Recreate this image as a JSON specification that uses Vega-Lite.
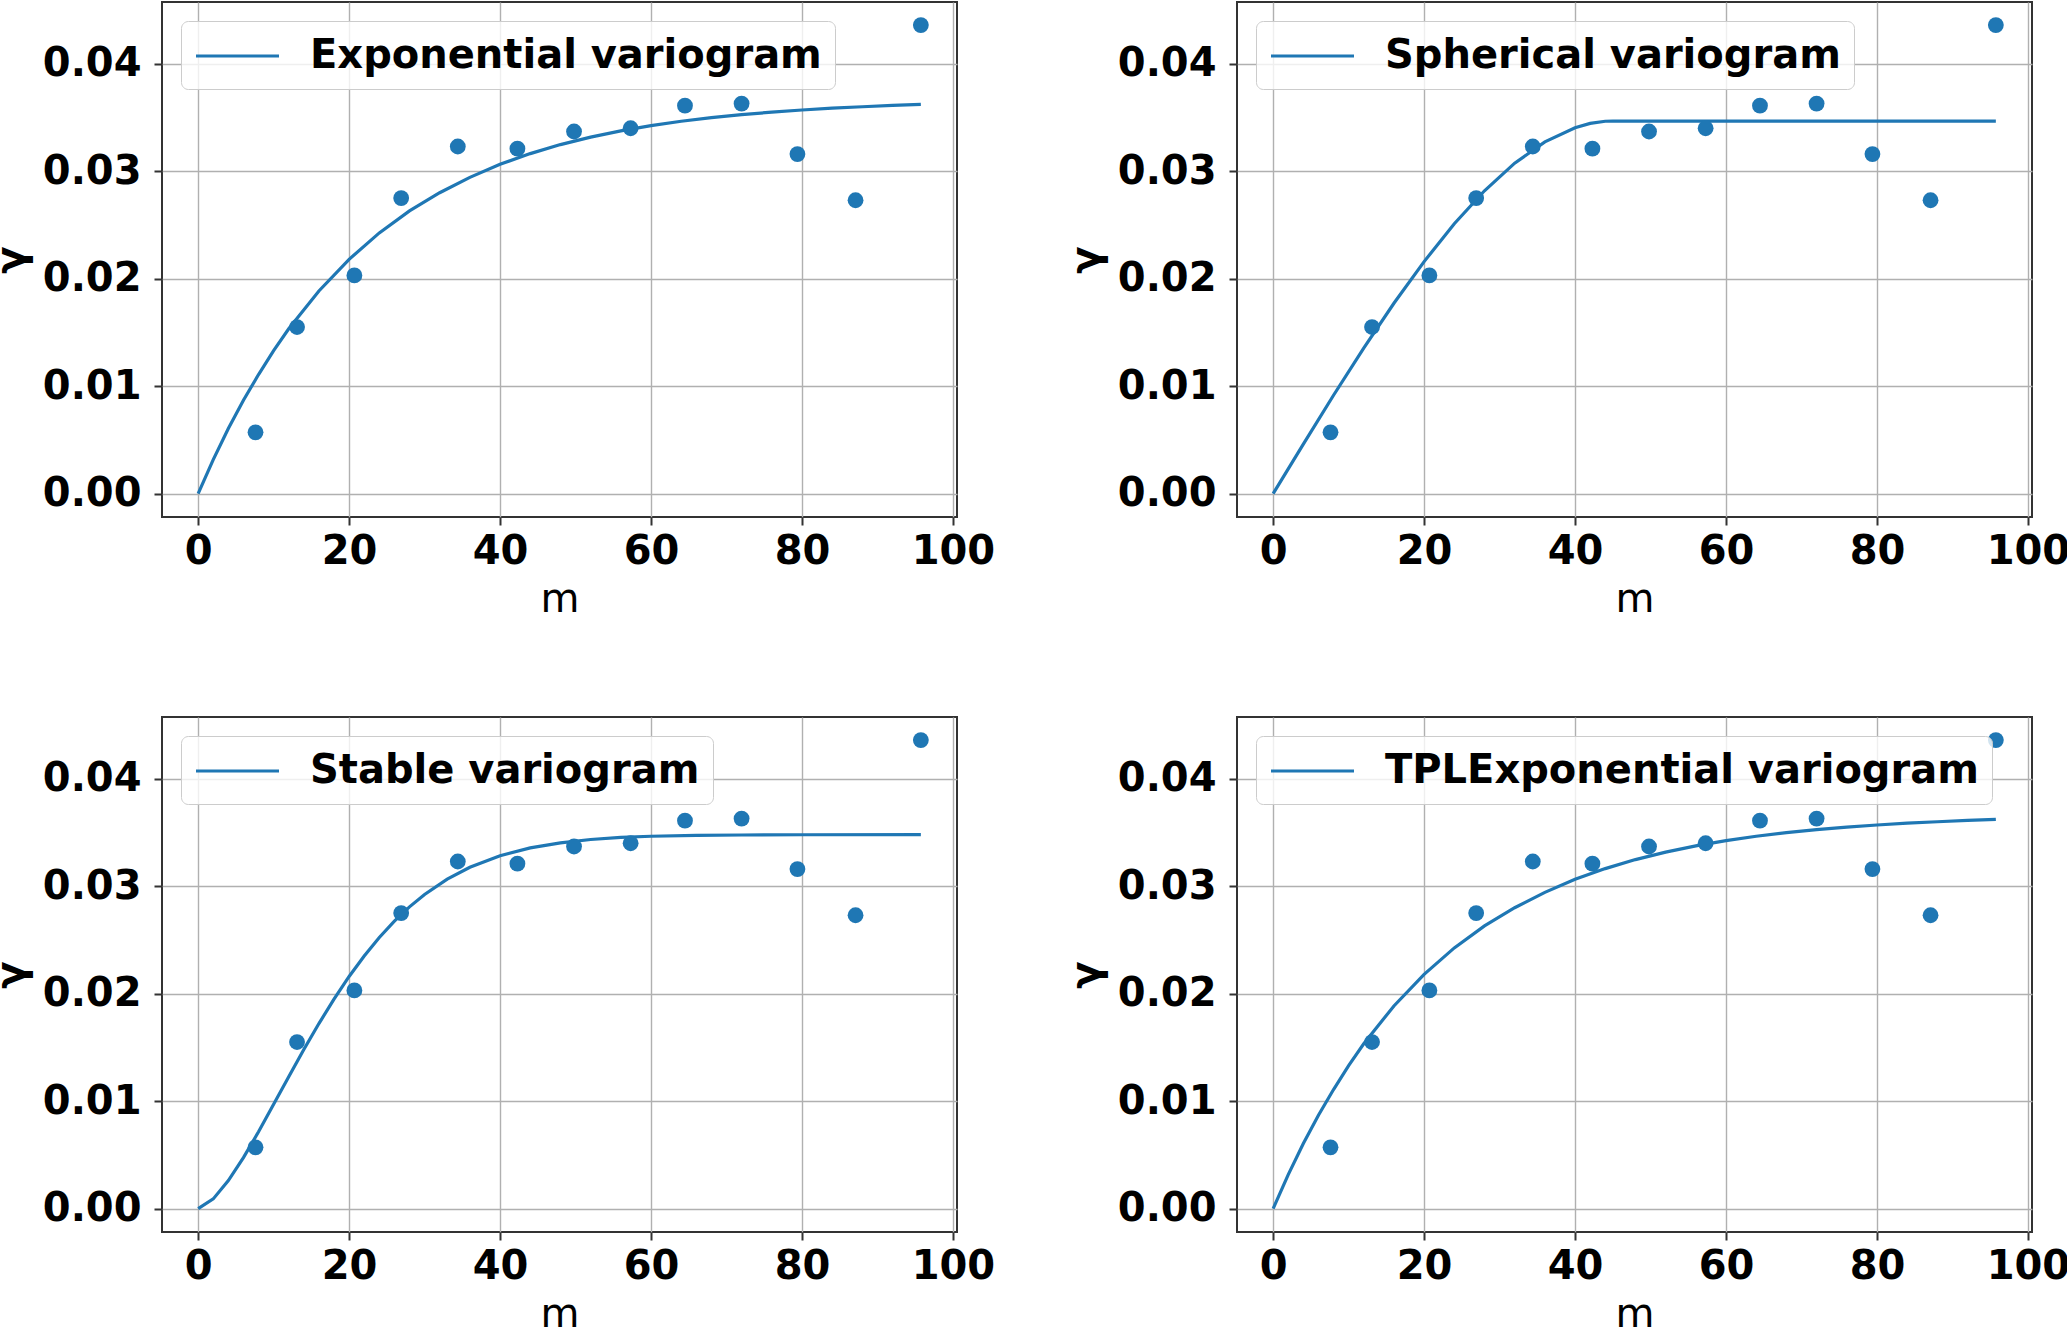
{
  "$schema": "https://vega.github.io/schema/vega-lite/v6.json",
  "background": "white",
  "padding": {"left": -10, "top": 1, "right": 0, "bottom": 0},
  "columns": 2,
  "bounds": "flush",
  "spacing": {"row": 200, "column": 280},
  "datasets": {
    "emp": [
      {"h": 7.6, "gamma": 0.0057},
      {"h": 13.1, "gamma": 0.0155},
      {"h": 20.7, "gamma": 0.0203},
      {"h": 26.9, "gamma": 0.0275},
      {"h": 34.4, "gamma": 0.0323},
      {"h": 42.3, "gamma": 0.0321},
      {"h": 49.8, "gamma": 0.0337},
      {"h": 57.3, "gamma": 0.034},
      {"h": 64.5, "gamma": 0.0361},
      {"h": 72.0, "gamma": 0.0363},
      {"h": 79.4, "gamma": 0.0316},
      {"h": 87.1, "gamma": 0.0273},
      {"h": 95.75, "gamma": 0.0436}
    ],
    "fit": [
      {"model": "Exponential variogram", "h": 0, "gamma": 0},
      {"model": "Exponential variogram", "h": 2, "gamma": 0.00316},
      {"model": "Exponential variogram", "h": 4, "gamma": 0.00605},
      {"model": "Exponential variogram", "h": 6, "gamma": 0.00869},
      {"model": "Exponential variogram", "h": 8, "gamma": 0.01108},
      {"model": "Exponential variogram", "h": 10, "gamma": 0.01331},
      {"model": "Exponential variogram", "h": 12, "gamma": 0.01534},
      {"model": "Exponential variogram", "h": 16, "gamma": 0.01886},
      {"model": "Exponential variogram", "h": 20, "gamma": 0.0218},
      {"model": "Exponential variogram", "h": 24, "gamma": 0.02426},
      {"model": "Exponential variogram", "h": 28, "gamma": 0.02631},
      {"model": "Exponential variogram", "h": 32, "gamma": 0.028},
      {"model": "Exponential variogram", "h": 36, "gamma": 0.02943},
      {"model": "Exponential variogram", "h": 40, "gamma": 0.03064},
      {"model": "Exponential variogram", "h": 44, "gamma": 0.03164},
      {"model": "Exponential variogram", "h": 48, "gamma": 0.03248},
      {"model": "Exponential variogram", "h": 52, "gamma": 0.03317},
      {"model": "Exponential variogram", "h": 56, "gamma": 0.03376},
      {"model": "Exponential variogram", "h": 60, "gamma": 0.03424},
      {"model": "Exponential variogram", "h": 64, "gamma": 0.03465},
      {"model": "Exponential variogram", "h": 68, "gamma": 0.03499},
      {"model": "Exponential variogram", "h": 72, "gamma": 0.03527},
      {"model": "Exponential variogram", "h": 76, "gamma": 0.0355},
      {"model": "Exponential variogram", "h": 80, "gamma": 0.0357},
      {"model": "Exponential variogram", "h": 84, "gamma": 0.03587},
      {"model": "Exponential variogram", "h": 88, "gamma": 0.036},
      {"model": "Exponential variogram", "h": 92, "gamma": 0.03612},
      {"model": "Exponential variogram", "h": 95.75, "gamma": 0.03622},
      {"model": "Spherical variogram", "h": 0, "gamma": 0},
      {"model": "Spherical variogram", "h": 4, "gamma": 0.00461},
      {"model": "Spherical variogram", "h": 8, "gamma": 0.00915},
      {"model": "Spherical variogram", "h": 12, "gamma": 0.01354},
      {"model": "Spherical variogram", "h": 16, "gamma": 0.01771},
      {"model": "Spherical variogram", "h": 20, "gamma": 0.02159},
      {"model": "Spherical variogram", "h": 24, "gamma": 0.02511},
      {"model": "Spherical variogram", "h": 28, "gamma": 0.02818},
      {"model": "Spherical variogram", "h": 32, "gamma": 0.03075},
      {"model": "Spherical variogram", "h": 36, "gamma": 0.03273},
      {"model": "Spherical variogram", "h": 40, "gamma": 0.03405},
      {"model": "Spherical variogram", "h": 42, "gamma": 0.03445},
      {"model": "Spherical variogram", "h": 44, "gamma": 0.03465},
      {"model": "Spherical variogram", "h": 45, "gamma": 0.03467},
      {"model": "Spherical variogram", "h": 95.75, "gamma": 0.03467},
      {"model": "Stable variogram", "h": 0, "gamma": 0},
      {"model": "Stable variogram", "h": 2, "gamma": 0.0009},
      {"model": "Stable variogram", "h": 4, "gamma": 0.0026},
      {"model": "Stable variogram", "h": 6, "gamma": 0.00474},
      {"model": "Stable variogram", "h": 8, "gamma": 0.00715},
      {"model": "Stable variogram", "h": 10, "gamma": 0.0097},
      {"model": "Stable variogram", "h": 12, "gamma": 0.01227},
      {"model": "Stable variogram", "h": 14, "gamma": 0.0148},
      {"model": "Stable variogram", "h": 16, "gamma": 0.01722},
      {"model": "Stable variogram", "h": 18, "gamma": 0.01949},
      {"model": "Stable variogram", "h": 20, "gamma": 0.0216},
      {"model": "Stable variogram", "h": 22, "gamma": 0.02351},
      {"model": "Stable variogram", "h": 24, "gamma": 0.02523},
      {"model": "Stable variogram", "h": 26, "gamma": 0.02675},
      {"model": "Stable variogram", "h": 28, "gamma": 0.02808},
      {"model": "Stable variogram", "h": 30, "gamma": 0.02923},
      {"model": "Stable variogram", "h": 33, "gamma": 0.03066},
      {"model": "Stable variogram", "h": 36, "gamma": 0.03177},
      {"model": "Stable variogram", "h": 40, "gamma": 0.03284},
      {"model": "Stable variogram", "h": 44, "gamma": 0.03357},
      {"model": "Stable variogram", "h": 48, "gamma": 0.03404},
      {"model": "Stable variogram", "h": 52, "gamma": 0.03435},
      {"model": "Stable variogram", "h": 56, "gamma": 0.03454},
      {"model": "Stable variogram", "h": 60, "gamma": 0.03465},
      {"model": "Stable variogram", "h": 66, "gamma": 0.03474},
      {"model": "Stable variogram", "h": 72, "gamma": 0.03477},
      {"model": "Stable variogram", "h": 80, "gamma": 0.03479},
      {"model": "Stable variogram", "h": 95.75, "gamma": 0.0348},
      {"model": "TPLExponential variogram", "h": 0, "gamma": 0},
      {"model": "TPLExponential variogram", "h": 2, "gamma": 0.00316},
      {"model": "TPLExponential variogram", "h": 4, "gamma": 0.00605},
      {"model": "TPLExponential variogram", "h": 6, "gamma": 0.00869},
      {"model": "TPLExponential variogram", "h": 8, "gamma": 0.01108},
      {"model": "TPLExponential variogram", "h": 10, "gamma": 0.01331},
      {"model": "TPLExponential variogram", "h": 12, "gamma": 0.01534},
      {"model": "TPLExponential variogram", "h": 16, "gamma": 0.01886},
      {"model": "TPLExponential variogram", "h": 20, "gamma": 0.0218},
      {"model": "TPLExponential variogram", "h": 24, "gamma": 0.02426},
      {"model": "TPLExponential variogram", "h": 28, "gamma": 0.02631},
      {"model": "TPLExponential variogram", "h": 32, "gamma": 0.028},
      {"model": "TPLExponential variogram", "h": 36, "gamma": 0.02943},
      {"model": "TPLExponential variogram", "h": 40, "gamma": 0.03064},
      {"model": "TPLExponential variogram", "h": 44, "gamma": 0.03164},
      {"model": "TPLExponential variogram", "h": 48, "gamma": 0.03248},
      {"model": "TPLExponential variogram", "h": 52, "gamma": 0.03317},
      {"model": "TPLExponential variogram", "h": 56, "gamma": 0.03376},
      {"model": "TPLExponential variogram", "h": 60, "gamma": 0.03424},
      {"model": "TPLExponential variogram", "h": 64, "gamma": 0.03465},
      {"model": "TPLExponential variogram", "h": 68, "gamma": 0.03499},
      {"model": "TPLExponential variogram", "h": 72, "gamma": 0.03527},
      {"model": "TPLExponential variogram", "h": 76, "gamma": 0.0355},
      {"model": "TPLExponential variogram", "h": 80, "gamma": 0.0357},
      {"model": "TPLExponential variogram", "h": 84, "gamma": 0.03587},
      {"model": "TPLExponential variogram", "h": 88, "gamma": 0.036},
      {"model": "TPLExponential variogram", "h": 92, "gamma": 0.03612},
      {"model": "TPLExponential variogram", "h": 95.75, "gamma": 0.03622}
    ]
  },
  "resolve": {"scale": {"color": "independent"}, "legend": {"color": "independent"}},
  "concat": [
    {
      "width": 795, "height": 515,
      "layer": [
        {
          "data": {"name": "fit"},
          "transform": [{"filter": "datum.model === 'Exponential variogram'"}],
          "mark": {"type": "line", "strokeWidth": 3.2},
          "encoding": {
            "x": {"field": "h", "type": "quantitative", "title": "m", "scale": {"domain": [-4.79, 100.54], "nice": false, "zero": false}, "axis": {"values": [0, 20, 40, 60, 80, 100]}},
            "y": {"field": "gamma", "type": "quantitative", "title": "γ", "scale": {"domain": [-0.00218, 0.04575], "nice": false, "zero": false}, "axis": {"values": [0, 0.01, 0.02, 0.03, 0.04], "format": ".2f"}},
            "color": {"field": "model", "type": "nominal", "scale": {"range": ["#1f77b4"]}, "legend": {"title": null}}
          }
        },
        {
          "data": {"name": "emp"},
          "mark": {"type": "circle", "size": 250, "opacity": 1, "color": "#1f77b4"},
          "encoding": {
            "x": {"field": "h", "type": "quantitative"},
            "y": {"field": "gamma", "type": "quantitative"}
          }
        }
      ]
    },
    {
      "width": 795, "height": 515,
      "layer": [
        {
          "data": {"name": "fit"},
          "transform": [{"filter": "datum.model === 'Spherical variogram'"}],
          "mark": {"type": "line", "strokeWidth": 3.2},
          "encoding": {
            "x": {"field": "h", "type": "quantitative", "title": "m", "scale": {"domain": [-4.79, 100.54], "nice": false, "zero": false}, "axis": {"values": [0, 20, 40, 60, 80, 100]}},
            "y": {"field": "gamma", "type": "quantitative", "title": "γ", "scale": {"domain": [-0.00218, 0.04575], "nice": false, "zero": false}, "axis": {"values": [0, 0.01, 0.02, 0.03, 0.04], "format": ".2f"}},
            "color": {"field": "model", "type": "nominal", "scale": {"range": ["#1f77b4"]}, "legend": {"title": null}}
          }
        },
        {
          "data": {"name": "emp"},
          "mark": {"type": "circle", "size": 250, "opacity": 1, "color": "#1f77b4"},
          "encoding": {
            "x": {"field": "h", "type": "quantitative"},
            "y": {"field": "gamma", "type": "quantitative"}
          }
        }
      ]
    },
    {
      "width": 795, "height": 515,
      "layer": [
        {
          "data": {"name": "fit"},
          "transform": [{"filter": "datum.model === 'Stable variogram'"}],
          "mark": {"type": "line", "strokeWidth": 3.2},
          "encoding": {
            "x": {"field": "h", "type": "quantitative", "title": "m", "scale": {"domain": [-4.79, 100.54], "nice": false, "zero": false}, "axis": {"values": [0, 20, 40, 60, 80, 100]}},
            "y": {"field": "gamma", "type": "quantitative", "title": "γ", "scale": {"domain": [-0.00218, 0.04575], "nice": false, "zero": false}, "axis": {"values": [0, 0.01, 0.02, 0.03, 0.04], "format": ".2f"}},
            "color": {"field": "model", "type": "nominal", "scale": {"range": ["#1f77b4"]}, "legend": {"title": null}}
          }
        },
        {
          "data": {"name": "emp"},
          "mark": {"type": "circle", "size": 250, "opacity": 1, "color": "#1f77b4"},
          "encoding": {
            "x": {"field": "h", "type": "quantitative"},
            "y": {"field": "gamma", "type": "quantitative"}
          }
        }
      ]
    },
    {
      "width": 795, "height": 515,
      "layer": [
        {
          "data": {"name": "fit"},
          "transform": [{"filter": "datum.model === 'TPLExponential variogram'"}],
          "mark": {"type": "line", "strokeWidth": 3.2},
          "encoding": {
            "x": {"field": "h", "type": "quantitative", "title": "m", "scale": {"domain": [-4.79, 100.54], "nice": false, "zero": false}, "axis": {"values": [0, 20, 40, 60, 80, 100]}},
            "y": {"field": "gamma", "type": "quantitative", "title": "γ", "scale": {"domain": [-0.00218, 0.04575], "nice": false, "zero": false}, "axis": {"values": [0, 0.01, 0.02, 0.03, 0.04], "format": ".2f"}},
            "color": {"field": "model", "type": "nominal", "scale": {"range": ["#1f77b4"]}, "legend": {"title": null}}
          }
        },
        {
          "data": {"name": "emp"},
          "mark": {"type": "circle", "size": 250, "opacity": 1, "color": "#1f77b4"},
          "encoding": {
            "x": {"field": "h", "type": "quantitative"},
            "y": {"field": "gamma", "type": "quantitative"}
          }
        }
      ]
    }
  ],
  "config": {
    "font": "DejaVu Sans",
    "view": {"stroke": "#333333", "strokeWidth": 2},
    "axis": {
      "labelFont": "DejaVu Sans",
      "labelFontSize": 40,
      "labelFontWeight": "bold",
      "labelColor": "black",
      "titleFont": "DejaVu Sans",
      "titleFontSize": 40,
      "titleColor": "black",
      "grid": true,
      "gridColor": "#b0b0b0",
      "gridWidth": 1.4,
      "gridOpacity": 1,
      "domain": false,
      "ticks": true,
      "tickColor": "#333333",
      "tickWidth": 2,
      "tickSize": 8,
      "labelFlush": false,
      "labelOverlap": false
    },
    "axisX": {"labelPadding": 6, "titlePadding": 8, "titleFontWeight": "normal"},
    "axisY": {"labelPadding": 13, "titlePadding": 11, "titleFontWeight": "bold"},
    "legend": {
      "orient": "top-left",
      "offset": 19,
      "padding": 13,
      "fillColor": "rgba(255,255,255,0.8)",
      "strokeColor": "#cccccc",
      "cornerRadius": 7,
      "symbolType": "M-1,0H3.15",
      "symbolSize": 1600,
      "symbolStrokeWidth": 3.2,
      "labelFont": "DejaVu Sans",
      "labelFontSize": 40,
      "labelFontWeight": "bold",
      "labelColor": "black",
      "labelOffset": 72,
      "labelLimit": 0
    }
  }
}
